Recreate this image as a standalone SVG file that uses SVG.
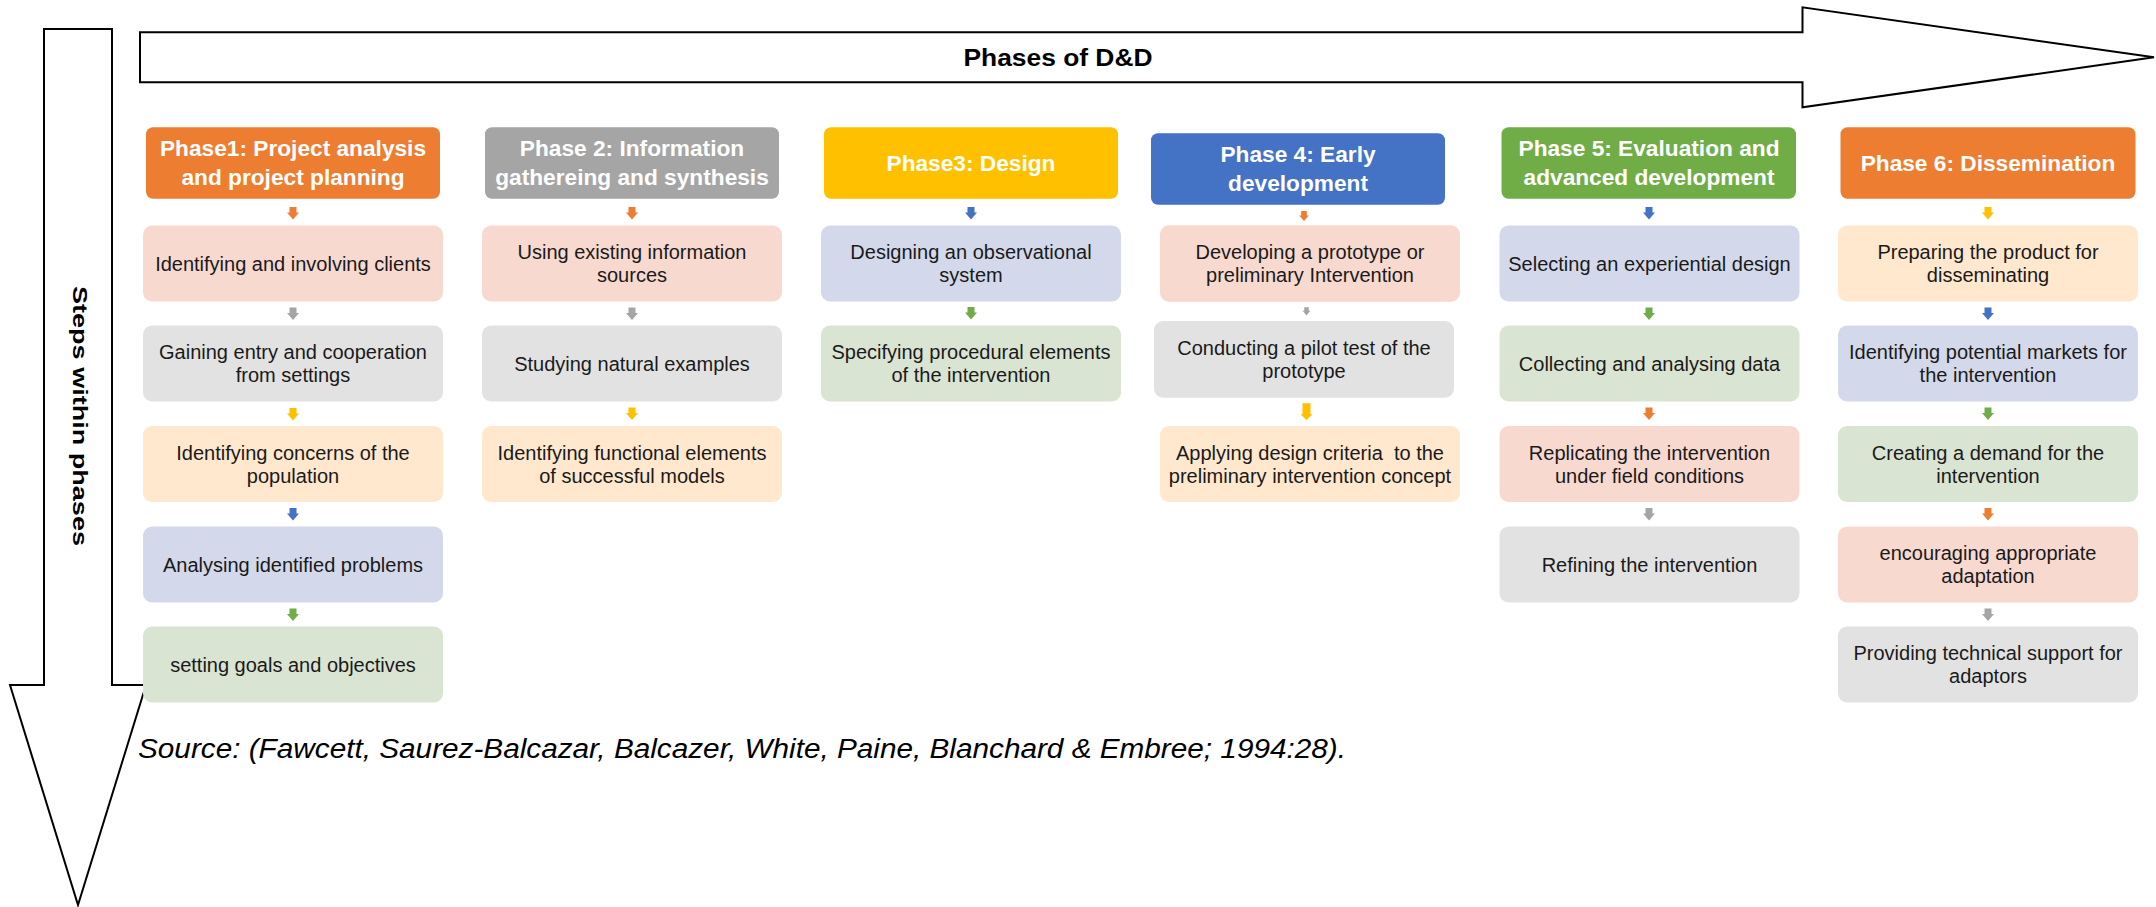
<svg xmlns="http://www.w3.org/2000/svg" xmlns:xlink="http://www.w3.org/1999/xlink" width="2156" height="907" viewBox="0 0 2156 907">
  <style>
    .frame { fill: #ffffff; stroke: #000000; stroke-width: 2; stroke-linejoin: miter; }
    .axis { font-family: "Liberation Sans", Arial, sans-serif; font-weight: bold; fill: #000000; }
    .hd { font-family: "Liberation Sans", Arial, sans-serif; font-weight: bold; font-size: 22.7px; fill: #ffffff; text-anchor: middle; }
    .bx { font-family: "Liberation Sans", Arial, sans-serif; font-size: 20px; fill: #1a1a1a; text-anchor: middle; }
    .src { font-family: "Liberation Sans", Arial, sans-serif; font-style: italic; font-size: 27px; fill: #000000; }
    .h-or { fill: #ED7D31; }
    .h-gy { fill: #A5A5A5; }
    .h-ye { fill: #FFC000; }
    .h-bl { fill: #4472C4; }
    .h-gr { fill: #70AD47; }
    .b-pk { fill: #F8D9CF; }
    .b-gy { fill: #E2E2E2; }
    .b-pe { fill: #FFE8CD; }
    .b-bl { fill: #D3D9EB; }
    .b-gr { fill: #DAE4D3; }
  </style>
  <defs>
    <!-- small block arrow pointing down, origin at top-centre -->
    <path id="dn" d="M-3.5,0 H3.5 V5.5 H6 L0,12.5 L-6,5.5 H-3.5 Z"/>
  </defs>

  <!-- axis arrows -->
  <g id="phases-axis">
    <path class="frame" d="M140,32.3 H1802.5 V7.3 L2154,57.3 L1802.5,107.3 V82.3 H140 Z"/>
    <text class="axis" x="1058" y="66" font-size="23.5" text-anchor="middle" textLength="189" lengthAdjust="spacingAndGlyphs">Phases of D&amp;D</text>
  </g>
  <g id="steps-axis">
    <path class="frame" d="M44,29 H112 V685 H146 L78,905 L10,685 H44 Z"/>
    <text class="axis" transform="translate(72.5,286) rotate(90)" x="0" y="0" font-size="21" textLength="260" lengthAdjust="spacingAndGlyphs">Steps within phases</text>
  </g>

  <!-- Phase 1 -->
  <g id="phase1">
    <rect class="h-or" x="146" y="127.3" width="294" height="71.5" rx="7"/>
    <text class="hd" x="293" y="156">Phase1: Project analysis</text>
    <text class="hd" x="293" y="184.6">and project planning</text>
  </g>
  <g id="p1-s1"><rect class="b-pk" x="143" y="225.5" width="300" height="76" rx="9"/>
    <text class="bx" x="293" y="270.5">Identifying and involving clients</text></g>
  <g id="p1-s2"><rect class="b-gy" x="143" y="325.5" width="300" height="76" rx="9"/>
    <text class="bx" x="293" y="359">Gaining entry and cooperation</text>
    <text class="bx" x="293" y="382">from settings</text></g>
  <g id="p1-s3"><rect class="b-pe" x="143" y="426" width="300" height="76" rx="9"/>
    <text class="bx" x="293" y="459.5">Identifying concerns of the</text>
    <text class="bx" x="293" y="482.5">population</text></g>
  <g id="p1-s4"><rect class="b-bl" x="143" y="526.5" width="300" height="76" rx="9"/>
    <text class="bx" x="293" y="571.5">Analysing identified problems</text></g>
  <g id="p1-s5"><rect class="b-gr" x="143" y="626.5" width="300" height="76" rx="9"/>
    <text class="bx" x="293" y="671.5">setting goals and objectives</text></g>

  <!-- Phase 2 -->
  <g id="phase2">
    <rect class="h-gy" x="485" y="127.3" width="294" height="71.5" rx="7"/>
    <text class="hd" x="632" y="156">Phase 2: Information</text>
    <text class="hd" x="632" y="184.6">gathereing and synthesis</text>
  </g>
  <g id="p2-s1"><rect class="b-pk" x="482" y="225.5" width="300" height="76" rx="9"/>
    <text class="bx" x="632" y="259">Using existing information</text>
    <text class="bx" x="632" y="282">sources</text></g>
  <g id="p2-s2"><rect class="b-gy" x="482" y="325.5" width="300" height="76" rx="9"/>
    <text class="bx" x="632" y="370.5">Studying natural examples</text></g>
  <g id="p2-s3"><rect class="b-pe" x="482" y="426" width="300" height="76" rx="9"/>
    <text class="bx" x="632" y="459.5">Identifying functional elements</text>
    <text class="bx" x="632" y="482.5">of successful models</text></g>

  <!-- Phase 3 -->
  <g id="phase3">
    <rect class="h-ye" x="824" y="127.3" width="294" height="71.5" rx="7"/>
    <text class="hd" x="971" y="171">Phase3: Design</text>
  </g>
  <g id="p3-s1"><rect class="b-bl" x="821" y="225.5" width="300" height="76" rx="9"/>
    <text class="bx" x="971" y="259">Designing an observational</text>
    <text class="bx" x="971" y="282">system</text></g>
  <g id="p3-s2"><rect class="b-gr" x="821" y="325.5" width="300" height="76" rx="9"/>
    <text class="bx" x="971" y="359">Specifying procedural elements</text>
    <text class="bx" x="971" y="382">of the intervention</text></g>

  <!-- Phase 4 -->
  <g id="phase4">
    <rect class="h-bl" x="1151" y="133.3" width="294" height="71.4" rx="7"/>
    <text class="hd" x="1298" y="162">Phase 4: Early</text>
    <text class="hd" x="1298" y="190.5">development</text>
  </g>
  <g id="p4-s1"><rect class="b-pk" x="1160" y="225.3" width="300" height="76.4" rx="9"/>
    <text class="bx" x="1310" y="259">Developing a prototype or</text>
    <text class="bx" x="1310" y="282">preliminary Intervention</text></g>
  <g id="p4-s2"><rect class="b-gy" x="1154" y="321" width="300" height="76.7" rx="9"/>
    <text class="bx" x="1304" y="354.8">Conducting a pilot test of the</text>
    <text class="bx" x="1304" y="377.8">prototype</text></g>
  <g id="p4-s3"><rect class="b-pe" x="1160" y="426" width="300" height="76" rx="9"/>
    <text class="bx" x="1310" y="459.5" xml:space="preserve" style="white-space:pre">Applying design criteria  to the</text>
    <text class="bx" x="1310" y="482.5">preliminary intervention concept</text></g>

  <!-- Phase 5 -->
  <g id="phase5">
    <rect class="h-gr" x="1501.5" y="127.3" width="294.5" height="71.5" rx="7"/>
    <text class="hd" x="1649" y="156">Phase 5: Evaluation and</text>
    <text class="hd" x="1649" y="184.6">advanced development</text>
  </g>
  <g id="p5-s1"><rect class="b-bl" x="1499.5" y="225.5" width="300" height="76" rx="9"/>
    <text class="bx" x="1649.5" y="270.5">Selecting an experiential design</text></g>
  <g id="p5-s2"><rect class="b-gr" x="1499.5" y="325.5" width="300" height="76" rx="9"/>
    <text class="bx" x="1649.5" y="370.5">Collecting and analysing data</text></g>
  <g id="p5-s3"><rect class="b-pk" x="1499.5" y="426" width="300" height="76" rx="9"/>
    <text class="bx" x="1649.5" y="459.5">Replicating the intervention</text>
    <text class="bx" x="1649.5" y="482.5">under field conditions</text></g>
  <g id="p5-s4"><rect class="b-gy" x="1499.5" y="526.5" width="300" height="76" rx="9"/>
    <text class="bx" x="1649.5" y="571.5">Refining the intervention</text></g>

  <!-- Phase 6 -->
  <g id="phase6">
    <rect class="h-or" x="1840.5" y="127.3" width="295" height="71.5" rx="7"/>
    <text class="hd" x="1988" y="171">Phase 6: Dissemination</text>
  </g>
  <g id="p6-s1"><rect class="b-pe" x="1838" y="225.5" width="300" height="76" rx="9"/>
    <text class="bx" x="1988" y="259">Preparing the product for</text>
    <text class="bx" x="1988" y="282">disseminating</text></g>
  <g id="p6-s2"><rect class="b-bl" x="1838" y="325.5" width="300" height="76" rx="9"/>
    <text class="bx" x="1988" y="359">Identifying potential markets for</text>
    <text class="bx" x="1988" y="382">the intervention</text></g>
  <g id="p6-s3"><rect class="b-gr" x="1838" y="426" width="300" height="76" rx="9"/>
    <text class="bx" x="1988" y="459.5">Creating a demand for the</text>
    <text class="bx" x="1988" y="482.5">intervention</text></g>
  <g id="p6-s4"><rect class="b-pk" x="1838" y="526.5" width="300" height="76" rx="9"/>
    <text class="bx" x="1988" y="560">encouraging appropriate</text>
    <text class="bx" x="1988" y="583">adaptation</text></g>
  <g id="p6-s5"><rect class="b-gy" x="1838" y="626.5" width="300" height="76" rx="9"/>
    <text class="bx" x="1988" y="660">Providing technical support for</text>
    <text class="bx" x="1988" y="683">adaptors</text></g>

  <!-- step-to-step connectors -->
  <g id="connectors">
    <use href="#dn" class="h-or" x="293" y="207"/>
    <use href="#dn" class="h-gy" x="293" y="307.5"/>
    <use href="#dn" class="h-ye" x="293" y="408"/>
    <use href="#dn" class="h-bl" x="293" y="508"/>
    <use href="#dn" class="h-gr" x="293" y="608.5"/>

    <use href="#dn" class="h-or" x="632" y="207"/>
    <use href="#dn" class="h-gy" x="632" y="307.5"/>
    <use href="#dn" class="h-ye" x="632" y="407.5"/>

    <use href="#dn" class="h-bl" x="971" y="207"/>
    <use href="#dn" class="h-gr" x="971" y="307"/>

    <use href="#dn" class="h-or" transform="translate(1304,211) scale(0.8)"/>
    <use href="#dn" class="h-gy" transform="translate(1306.5,307.3) scale(0.65)"/>
    <path class="h-ye" d="M1302.5,403.3 H1310.5 V414.3 H1312.5 L1306.5,420 L1300.5,414.3 H1302.5 Z"/>

    <use href="#dn" class="h-bl" x="1649" y="207"/>
    <use href="#dn" class="h-gr" x="1649" y="307.5"/>
    <use href="#dn" class="h-or" x="1649" y="407.5"/>
    <use href="#dn" class="h-gy" x="1649" y="508"/>

    <use href="#dn" class="h-ye" x="1988" y="207"/>
    <use href="#dn" class="h-bl" x="1988" y="307.5"/>
    <use href="#dn" class="h-gr" x="1988" y="407.5"/>
    <use href="#dn" class="h-or" x="1988" y="508"/>
    <use href="#dn" class="h-gy" x="1988" y="608.5"/>
  </g>

  <text class="src" x="138" y="758" textLength="1208" lengthAdjust="spacingAndGlyphs">Source: (Fawcett, Saurez-Balcazar, Balcazer, White, Paine, Blanchard &amp; Embree; 1994:28).</text>
</svg>
